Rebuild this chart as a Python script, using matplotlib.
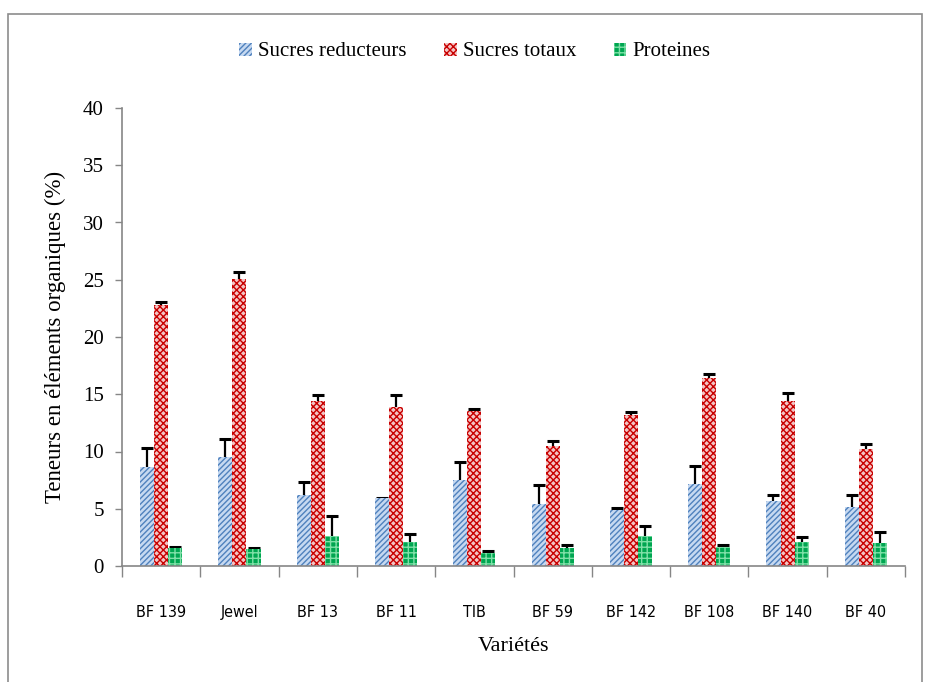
import matplotlib.pyplot as plt
import numpy as np
from matplotlib.patches import Rectangle

varietes = ["BF 139", "Jewel", "BF 13", "BF 11", "TIB", "BF 59", "BF 142", "BF 108", "BF 140", "BF 40"]

sucres_red = [8.67, 9.56, 6.22, 5.93, 7.53, 5.38, 4.89, 7.14, 5.65, 5.13]
sucres_red_err = [1.62, 1.51, 1.14, 0.05, 1.57, 1.72, 0.20, 1.62, 0.58, 1.10]

sucres_tot = [22.8, 25.07, 14.4, 13.9, 13.5, 10.45, 13.19, 16.39, 14.41, 10.22]
sucres_tot_err = [0.30, 0.63, 0.55, 1.0, 0.20, 0.49, 0.29, 0.38, 0.73, 0.46]

proteines = [1.54, 1.46, 2.59, 2.07, 1.17, 1.57, 2.62, 1.66, 2.10, 2.01]
proteines_err = [0.09, 0.09, 1.77, 0.72, 0.14, 0.29, 0.85, 0.20, 0.46, 0.99]

series = [
    ("Sucres reducteurs", sucres_red, sucres_red_err, "#c6d9f1", "#4f81bd", "//////"),
    ("Sucres totaux", sucres_tot, sucres_tot_err, "#f4c4c4", "#c80000", "xxxxx"),
    ("Proteines", proteines, proteines_err, "#00a651", "#7fe0a8", "+++"),
]

fig = plt.figure(figsize=(9.25, 6.82), dpi=100)
ax = fig.add_axes([122 / 925, 1 - 566 / 682, (905 - 122) / 925, (566 - 108) / 682])

# cadre gris autour du graphique
fig.patches.append(Rectangle((8 / 925, -0.01), 914 / 925, 1 - 14 / 682 + 0.01,
                             transform=fig.transFigure, fill=False,
                             edgecolor="#8c8c8c", linewidth=1.2))

x = np.arange(len(varietes))
width = 0.18
offsets = [-width, 0, width]

handles = []
for (name, vals, errs, face, hatch_col, hatch), off in zip(series, offsets):
    bars = ax.bar(x + off, vals, width, color=face, edgecolor=hatch_col,
                  hatch=hatch, linewidth=0, label=name, zorder=2)
    # barres d'erreur symetriques derriere les barres : seule la partie haute est visible
    ax.errorbar(x + off, vals, yerr=errs, fmt="none",
                ecolor="black", elinewidth=1.6, capsize=4, capthick=2.2, zorder=1)
    handles.append(bars)

ax.set_ylim(0, 40)
ax.set_xlim(-0.5, len(varietes) - 0.5)
ax.set_yticks(np.arange(0, 41, 5))
ax.set_yticklabels([str(v) for v in range(0, 41, 5)],
                   fontfamily="Liberation Serif", fontsize=15)
ax.set_xticks(x)
ax.set_xticklabels(varietes, fontfamily="DejaVu Sans", fontstretch="condensed", fontsize=11.5)
ax.set_xticks(np.arange(-0.5, len(varietes) + 0.5, 1), minor=True)
ax.tick_params(axis="x", which="major", length=0, pad=28)
ax.tick_params(axis="x", which="minor", length=8, color="#868686", width=1)
ax.tick_params(axis="y", length=5, color="#868686", width=1, pad=8)

for side in ["top", "right"]:
    ax.spines[side].set_visible(False)
for side in ["left", "bottom"]:
    ax.spines[side].set_color("#868686")
    ax.spines[side].set_linewidth(1.2)

ax.set_xlabel("Variétés", fontfamily="Liberation Serif", fontsize=16, labelpad=12)
ax.set_ylabel("Teneurs en éléments organiques (%)", fontfamily="Liberation Serif",
              fontsize=16.5, labelpad=12)

fig.legend(handles=handles, loc="center", bbox_to_anchor=(475 / 925, 1 - 52 / 682),
           ncol=3, frameon=False, prop={"family": "Liberation Serif", "size": 15},
           handlelength=0.6, handleheight=0.6, handletextpad=0.3, columnspacing=1.8)

fig.savefig("out.png", dpi=100)
